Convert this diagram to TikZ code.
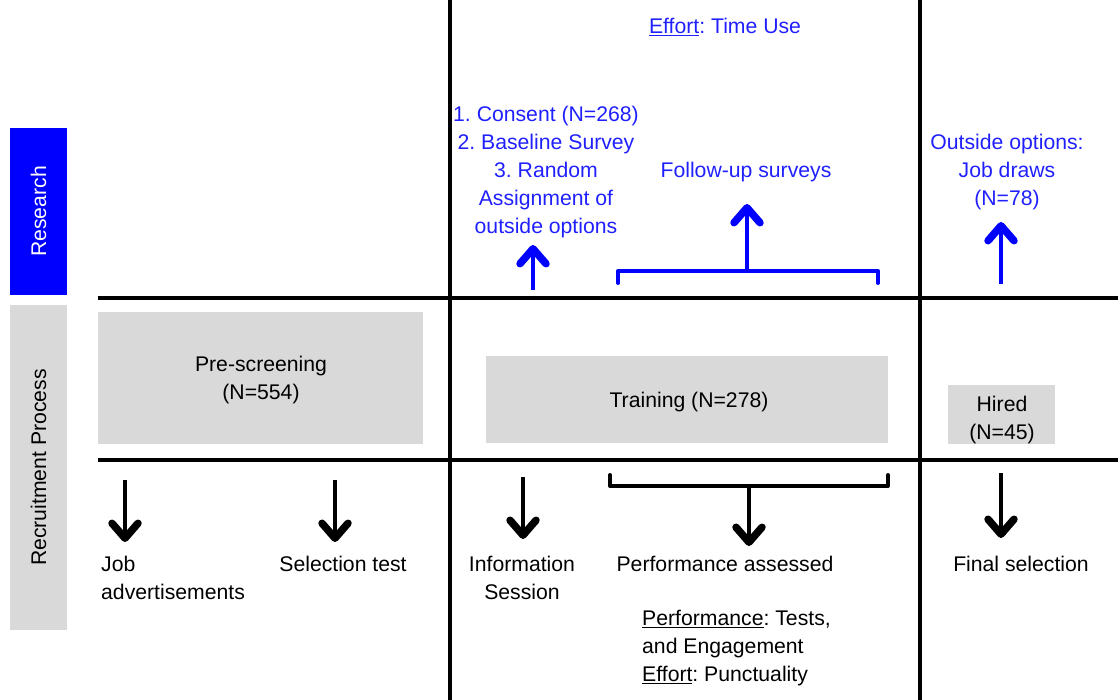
\documentclass[tikz,border=0pt]{standalone}
\usepackage{fontspec}
\setmainfont{Liberation Sans}
\usetikzlibrary{arrows.meta}
\definecolor{boxgray}{HTML}{D9D9D9}
\definecolor{resblue}{HTML}{0000FF}
\definecolor{txtblue}{HTML}{2020FF}
\frenchspacing
\begin{document}
\begin{tikzpicture}[x=1pt,y=-1pt,
  every node/.style={font=\fontsize{21.2}{28}\selectfont, inner sep=0pt},
  grid/.style={line width=4.5pt, black},
  graybox/.style={fill=boxgray, draw=none, align=center},
  blab/.style={text=txtblue, align=center},
  klab/.style={text=black, align=center},
  barrow/.style={line width=4.5pt, -{Straight Barb[length=15pt,width=26pt,line width=7.5pt,round]}},
  bluearrow/.style={barrow, resblue},
  brace/.style={line width=4pt, line join=round, line cap=round}
]
\useasboundingbox (0,0) rectangle (1120,700);
% grid lines
\draw[grid] (450,0) -- (450,700);
\draw[grid] (920,0) -- (920,700);
\draw[grid] (98,298) -- (1118,298);
\draw[grid] (98,460) -- (1118,460);
% side labels
\node[fill=resblue, minimum width=57pt, minimum height=167pt] (res) at (38.5,211.5) {};
\node[rotate=90, text=white] (restxt) at (res.center) {Research};
\node[fill=boxgray, minimum width=57pt, minimum height=325pt] (rec) at (38.5,467.5) {};
\node[rotate=90] (rectxt) at (rec.center) {Recruitment Process};
% gray boxes
\node[graybox, minimum width=325pt, minimum height=132pt] (pre) at (260.5,378) {};
\node[align=center] (pretxt) at (261,380) {Pre-screening\\(N=554)};
\node[graybox, minimum width=402pt, minimum height=87pt] (train) at (687,399.5) {};
\node (traintxt) at (689,402) {Training (N=278)};
\node[graybox, minimum width=107pt, minimum height=59pt] (hired) at (1001.5,414.5) {};
\node[align=center] (hiredtxt) at (1002,420) {Hired\\(N=45)};
% research texts
\node[blab] (effort) at (725,27) {\underline{Effort}: Time Use};
\node[blab] (consent) at (546,172) {1. Consent (N=268)\\2. Baseline Survey\\3. Random\\Assignment of\\outside options};
\node[blab] (follow) at (746,172) {Follow-up surveys};
\node[blab] (outside) at (1007,172) {Outside options:\\Job draws\\(N=78)};
% blue arrows
\coordinate (c1s) at (533,290); \coordinate (c1e) at (533,245);
\draw[bluearrow] (c1s) -- (c1e);
\coordinate (bl) at (618,283); \coordinate (blt) at (618,271);
\coordinate (br) at (878,283); \coordinate (brt) at (878,271);
\coordinate (bm) at (747,271); \coordinate (bmt) at (747,204);
\draw[brace, resblue] (bl) -- (blt) -- (brt) -- (br);
\draw[bluearrow] (bm) -- (bmt);
\coordinate (o1s) at (1001,284); \coordinate (o1e) at (1001,222);
\draw[bluearrow] (o1s) -- (o1e);
% black arrows
\coordinate (k1s) at (125,480); \coordinate (k1e) at (125,542);
\draw[barrow] (k1s) -- (k1e);
\coordinate (k2s) at (335,480); \coordinate (k2e) at (335,542);
\draw[barrow] (k2s) -- (k2e);
\coordinate (k3s) at (523,477); \coordinate (k3e) at (523,539);
\draw[barrow] (k3s) -- (k3e);
\coordinate (k4s) at (1001,473); \coordinate (k4e) at (1001,538);
\draw[barrow] (k4s) -- (k4e);
\coordinate (kl) at (610,475); \coordinate (klb) at (610,486);
\coordinate (kr) at (888,475); \coordinate (krb) at (888,486);
\coordinate (km) at (749,486); \coordinate (kmb) at (749,546);
\draw[brace] (kl) -- (klb) -- (krb) -- (kr);
\draw[barrow] (km) -- (kmb);
% bottom labels
\node[klab, align=left, anchor=west] (jobad) at (101,578) {Job\\advertisements};
\node[klab] (sel) at (343,564) {Selection test};
\node[klab] (info) at (522,578) {Information\\Session};
\node[klab] (perf) at (725,564) {Performance assessed};
\node[klab, align=left, anchor=west] (perfd) at (642,648) {\underline{Performance}: Tests,\\and Engagement\\\underline{Effort}: Punctuality};
\node[klab] (final) at (1021,564) {Final selection};
\end{tikzpicture}
\end{document}
